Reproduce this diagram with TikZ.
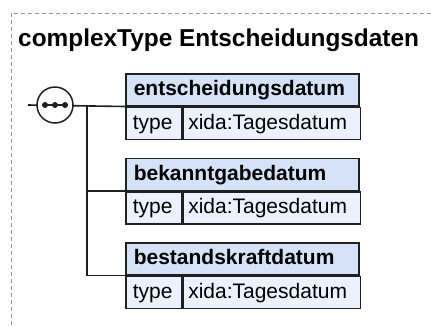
\documentclass[tikz,border=0pt]{standalone}
\usepackage{fontspec}
\setmainfont{Liberation Sans}
\usepackage{xcolor}
\usepackage{tikz}
\usetikzlibrary{positioning, shapes, calc}
\definecolor{hdrblue}{RGB}{214,226,248}
\definecolor{rowblue}{RGB}{235,242,253}
\definecolor{framegray}{RGB}{150,150,150}
\definecolor{edgedark}{RGB}{32,32,32}
\tikzset{
	frame/.style={framegray, line width=1pt, dash pattern=on 4pt off 3pt},
	cell/.style={draw=edgedark, line width=1.5pt, anchor=north west, minimum height=32pt,
		inner ysep=0pt, align=left, text height=15pt, text depth=3pt, font=\fontsize{21}{24}\selectfont},
	hdr/.style={cell, fill=hdrblue, inner xsep=8pt, text width=217pt, font=\bfseries\fontsize{21}{24}\selectfont},
	typecell/.style={cell, fill=rowblue, inner xsep=7pt, text width=42pt},
	valcell/.style={cell, fill=rowblue, inner xsep=5pt, text width=167pt},
	link/.style={edgedark, line width=1.6pt},
	seq/.style={circle, draw=edgedark, fill=white, line width=1.5pt, minimum size=36pt, inner sep=0pt}
}
\begin{document}
\begin{tikzpicture}[x=1pt, y=-1pt]
		\useasboundingbox (0,0) rectangle (431,325);
		\draw[frame] (431,13) -- (11,13) -- (11,325);
		\node[anchor=base west, inner sep=0pt, font=\bfseries\fontsize{24.4}{28}\selectfont] (title) at (18,46.7) {complexType Entscheidungsdaten};
		% elements of the sequence
		\foreach \name/\y [count=\i] in {entscheidungsdatum/73, bekanntgabedatum/157.5, bestandskraftdatum/242} {
			\node[hdr] (h\i) at (125,\y) {\name};
			\node[typecell] (t\i) at (h\i.south west) {type};
			\node[valcell] (v\i) at (t\i.north east) {xida:Tagesdatum};
		}
		\coordinate (in) at (28,105);
		\coordinate (fork) at (87,105);
		\draw[link] (in) -- (h1.south west);
		\draw[link] (fork) |- (h3.south west);
		\draw[link] (fork |- h2.south west) -- (h2.south west);
		\node[seq] (seq) at (55,105) {};
		\draw[link] ($(seq.center)+(-13,0)$) -- ++(26,0);
		\foreach \d in {-10,0,10}
			\fill[edgedark] ($(seq.center)+(\d,0)$) circle (3);
		\end{tikzpicture}
\end{document}
